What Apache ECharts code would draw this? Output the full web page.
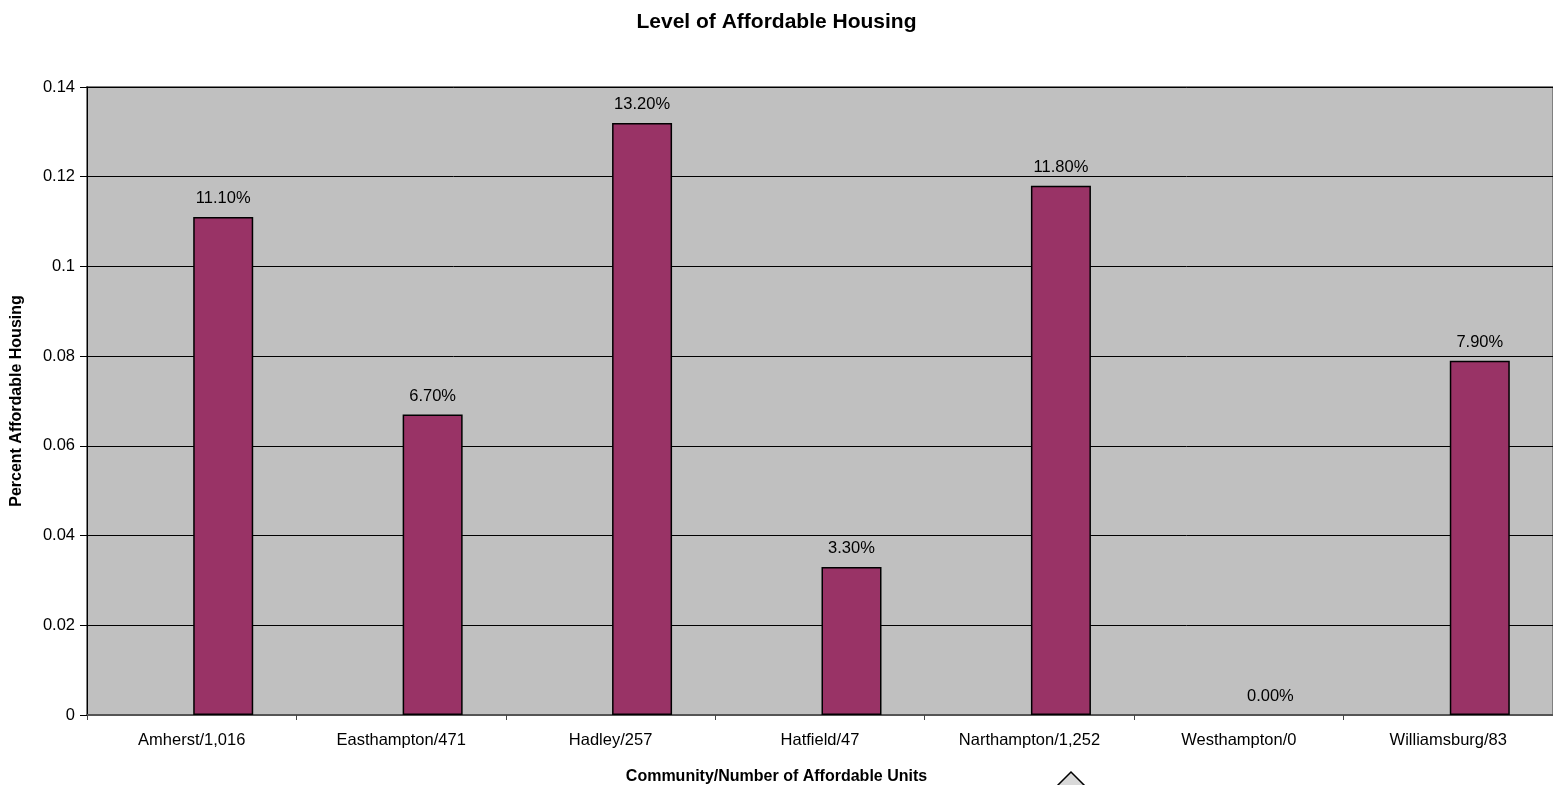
<!DOCTYPE html>
<html>
<head>
<meta charset="utf-8">
<title>Level of Affordable Housing</title>
<script src="https://cdn.jsdelivr.net/npm/echarts@6/dist/echarts.min.js"></script>
<style>
  html, body { margin: 0; padding: 0; background: #ffffff; }
  #chart { width: 1553px; height: 785px; }
</style>
</head>
<body>
<div id="chart"></div>
<script>
// Communities with their count of affordable units
const categories = [
  'Amherst/1,016', 'Easthampton/471', 'Hadley/257', 'Hatfield/47',
  'Narthampton/1,252', 'Westhampton/0', 'Williamsburg/83'
];
// Share of housing stock that is affordable
const affordableShare = [0.111, 0.067, 0.132, 0.033, 0.118, 0.0, 0.079];
// Empty companion series (keeps the bars offset within each category)
const emptySeries = categories.map(() => '-');
const yTicks = [0, 0.02, 0.04, 0.06, 0.08, 0.1, 0.12, 0.14];

const FONT = '"Liberation Sans", Arial, sans-serif';
const chart = echarts.init(document.getElementById('chart'), null, { renderer: 'canvas' });

// A zero-height bar should leave no outline on the axis
const shareData = affordableShare.map(v =>
  v === 0 ? { value: v, itemStyle: { borderWidth: 0 } } : v
);

chart.setOption({
  animation: false,
  backgroundColor: '#ffffff',
  textStyle: { fontFamily: FONT },
  title: [
    {
      text: 'Level of Affordable Housing',
      left: 'center',
      top: 7,
      textStyle: { fontFamily: FONT, fontSize: 21, fontWeight: 'bold', color: '#000' }
    },
    {
      text: 'Community/Number of Affordable Units',
      left: 'center',
      top: 764,
      textStyle: { fontFamily: FONT, fontSize: 16, fontWeight: 'bold', color: '#000' }
    }
  ],
  grid: {
    left: 87,
    top: 87,
    width: 1469,
    height: 628,
    show: true,
    backgroundColor: '#C0C0C0',
    borderColor: '#808080',
    borderWidth: 2
  },
  xAxis: {
    type: 'category',
    data: categories,
    axisLine: { show: true, lineStyle: { color: '#555555', width: 2 } },
    axisTick: { show: true, alignWithLabel: false, length: 5, lineStyle: { color: '#444444' } },
    axisLabel: { fontFamily: FONT, fontSize: 16.5, color: '#000', margin: 17, interval: 0 },
    splitLine: { show: false }
  },
  yAxis: {
    type: 'value',
    min: yTicks[0],
    max: yTicks[yTicks.length - 1],
    interval: 0.02,
    name: 'Percent Affordable Housing',
    nameLocation: 'middle',
    nameGap: 62,
    nameTextStyle: { fontFamily: FONT, fontSize: 16, fontWeight: 'bold', color: '#000' },
    axisLine: { show: true, lineStyle: { color: '#000', width: 1 } },
    axisTick: { show: true, length: 7, lineStyle: { color: '#000' } },
    axisLabel: { fontFamily: FONT, fontSize: 16.5, color: '#000', margin: 12 },
    splitLine: { show: true, lineStyle: { color: '#000', width: 1 } }
  },
  series: [
    {
      name: 'empty',
      type: 'bar',
      data: emptySeries,
      barWidth: 60,
      barGap: '5%',
      silent: true
    },
    {
      name: 'Percent Affordable Housing',
      type: 'bar',
      data: shareData,
      barWidth: 60,
      barGap: '5%',
      itemStyle: { color: '#993366', borderColor: '#000', borderWidth: 1.5 },
      label: {
        show: true,
        position: 'top',
        distance: 10,
        fontFamily: FONT,
        fontSize: 16.5,
        color: '#000',
        formatter: p => (p.value * 100).toFixed(2) + '%'
      }
    }
  ],
  graphic: [
    {
      type: 'polygon',
      shape: { points: [[1057, 786], [1071, 772], [1085, 786]] },
      style: { fill: '#d9d9d9', stroke: '#000', lineWidth: 1.5 },
      silent: true
    }
  ]
});
</script>
</body>
</html>
